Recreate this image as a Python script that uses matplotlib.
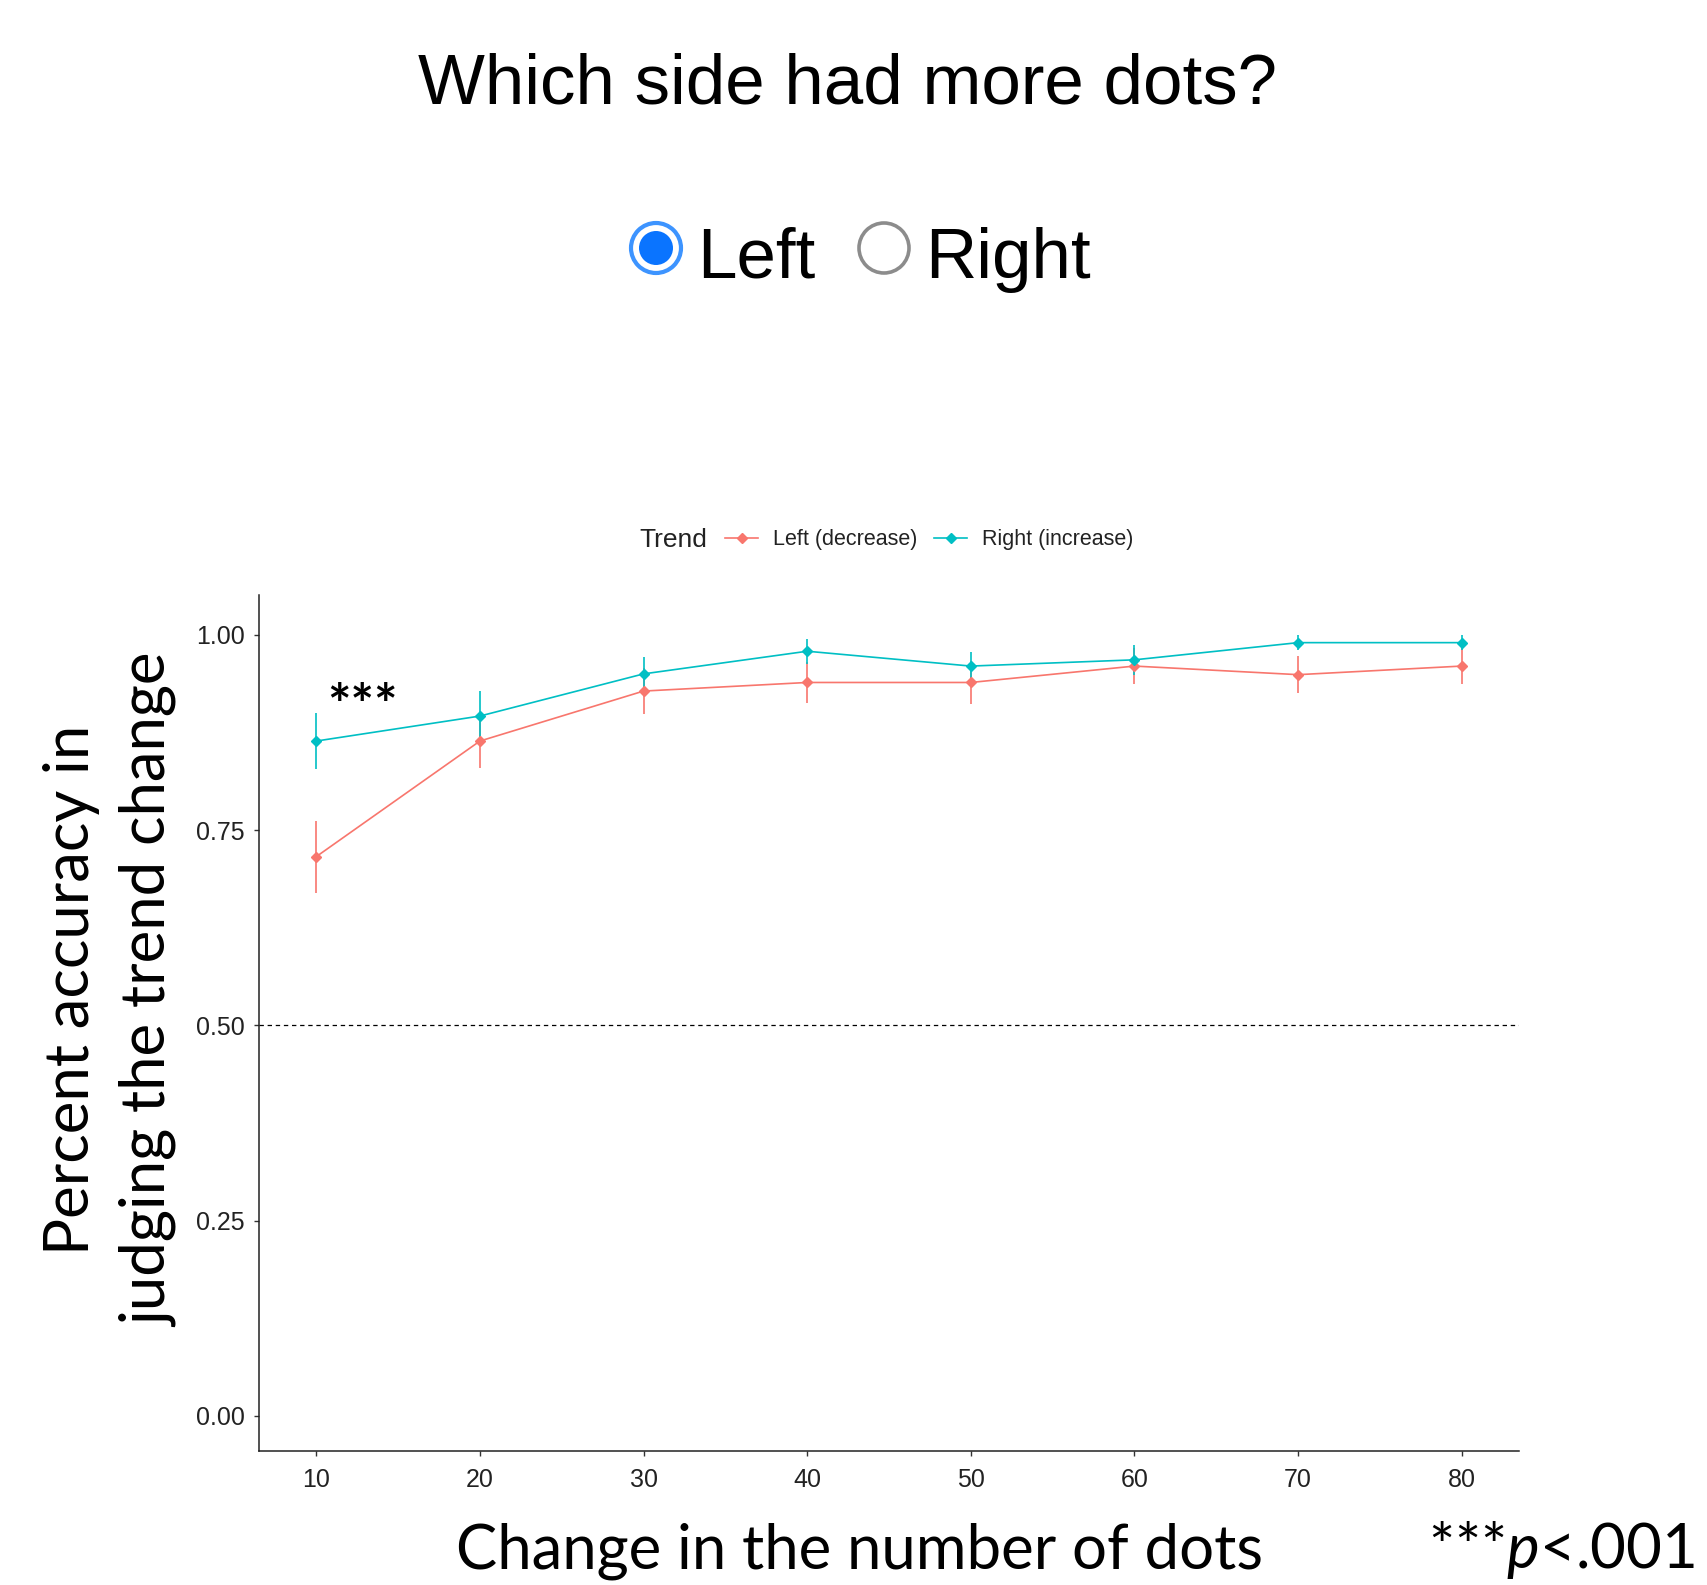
import numpy as np
import matplotlib
matplotlib.use('Agg')
from matplotlib import pyplot as plt
from matplotlib.lines import Line2D
from matplotlib.patches import Circle

# data (mean accuracy and error bar half-length)
dots = [10, 20, 30, 40, 50, 60, 70, 80]
left_mean = [0.716, 0.864, 0.928, 0.939, 0.939, 0.960, 0.949, 0.960]
left_err = [0.046, 0.034, 0.029, 0.026, 0.027, 0.023, 0.024, 0.023]
right_mean = [0.864, 0.896, 0.950, 0.979, 0.960, 0.968, 0.990, 0.990]
right_err = [0.036, 0.032, 0.021, 0.016, 0.018, 0.019, 0.010, 0.010]
series_names = ['Left (decrease)', 'Right (increase)']
yticks = [0.00, 0.25, 0.50, 0.75, 1.00]
chance = 0.5

RED = '#F8766D'
CYAN = '#00BFC4'
W, H = 1707, 1585

plt.rcParams['mathtext.fontset'] = 'custom'
plt.rcParams['mathtext.rm'] = 'Lato'
plt.rcParams['mathtext.it'] = 'Lato:italic'

fig = plt.figure(figsize=(W / 100, H / 100), dpi=100)
ax = fig.add_axes([259 / W, 1 - 1451 / H, (1519 - 259) / W, (1451 - 595) / H])

ax.axhline(chance, color='black', lw=0.9, ls=(0, (3.5, 3)), zorder=1)
for mean, err, col in [(left_mean, left_err, RED), (right_mean, right_err, CYAN)]:
    ax.errorbar(dots, mean, yerr=err, color=col, lw=1.2, elinewidth=1.2,
                capsize=0, marker='D', ms=5.5, zorder=3)

ax.set_xlim(6.5, 83.5)
ax.set_ylim(-0.045, 1.051)
ax.set_xticks(dots)
ax.set_yticks(yticks)
ax.set_yticklabels(['%.2f' % t for t in yticks])
for s in ['top', 'right']:
    ax.spines[s].set_visible(False)
for s in ['left', 'bottom']:
    ax.spines[s].set_linewidth(1.1)
    ax.spines[s].set_color('#222222')
ax.tick_params(axis='both', direction='out', length=3.6, width=1.0,
               color='#333333', labelcolor='#222222', labelsize=18)
ax.tick_params(axis='y', pad=6.5)
ax.tick_params(axis='x', pad=8.5)
for lab in ax.get_xticklabels() + ax.get_yticklabels():
    lab.set_family('Liberation Sans')

# significance marker at 10 dots
ax.text(12.8, 0.906, '***', fontsize=40, family='Lato', weight='bold',
        ha='center', va='center')

# legend (ggplot style, horizontal on top)
handles = [Line2D([], [], color=RED, lw=1.2, marker='D', ms=5.5),
           Line2D([], [], color=CYAN, lw=1.2, marker='D', ms=5.5)]
leg = fig.legend(handles, series_names, loc='center left',
                 bbox_to_anchor=(725 / W, 1 - 540 / H), ncol=2, frameon=False,
                 prop={'family': 'Liberation Sans', 'size': 15.5},
                 handlelength=1.55, handletextpad=0.7, columnspacing=0.75,
                 borderpad=0, borderaxespad=0)
for t in leg.get_texts():
    t.set_color('#222222')

# overlay in pixel coordinates for the header and big labels
cv = fig.add_axes([0, 0, 1, 1])
cv.set_xlim(0, W)
cv.set_ylim(H, 0)
cv.axis('off')

cv.text(639, 540, 'Trend', fontsize=19, family='Liberation Sans', color='#222222',
        ha='left', va='center')

cv.text(847, 103, 'Which side had more dots?', fontsize=51, family='Liberation Sans',
        ha='center', va='baseline')

# radio buttons
cv.add_patch(Circle((656, 248), 25, facecolor='white', edgecolor='#3d94ff', lw=3))
cv.add_patch(Circle((656, 248), 17, facecolor='#0a74ff', edgecolor='none'))
cv.add_patch(Circle((884, 248), 25, facecolor='white', edgecolor='#8c8c8c', lw=2.6))
cv.text(697, 278, 'Left', fontsize=51, family='Liberation Sans', ha='left', va='baseline')
cv.text(925, 278, 'Right', fontsize=51, family='Liberation Sans', ha='left', va='baseline')

# axis titles
cv.text(72, 990, 'Percent accuracy in', fontsize=44.5, family='Lato',
        rotation=90, ha='center', va='center')
cv.text(149, 990, 'judging the trend change', fontsize=44.5, family='Lato',
        rotation=90, ha='center', va='center')
cv.text(860, 1568, 'Change in the number of dots', fontsize=44.5, family='Lato',
        ha='center', va='baseline')
cv.text(1428, 1568, '***$p$<.001', fontsize=44.5, family='Lato',
        ha='left', va='baseline')

fig.savefig('out.png', dpi=100)
